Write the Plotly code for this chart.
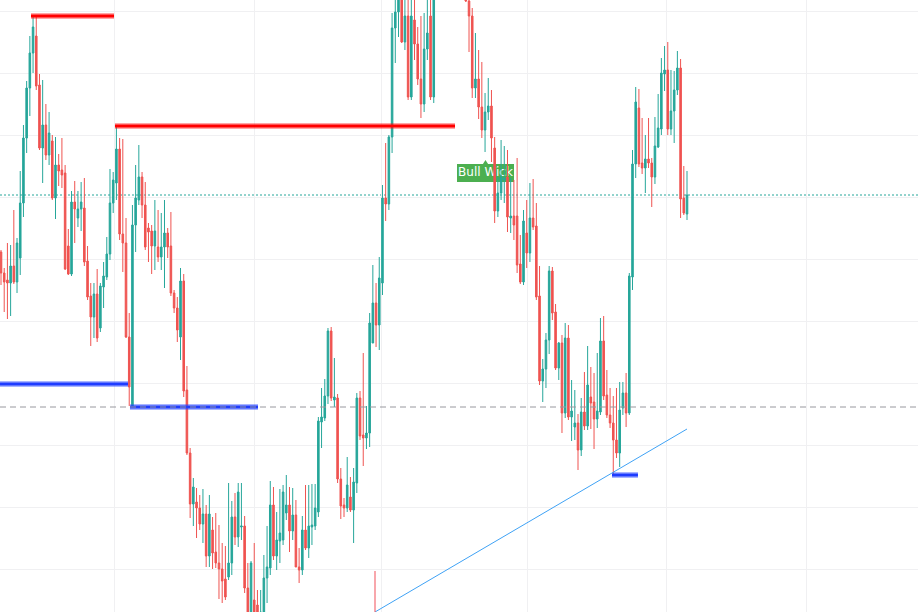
import plotly.graph_objects as go

# ---- candle data (price units, one entry per bar) ----
opens = [448,427,420,417,434,418,442,497,562,612,
         647,664,615,552,575,545,559,502,535,530,
         527,454,426,498,482,491,492,439,404,383,
         406,372,413,423,446,497,517,551,466,457,
         363,293,475,500,523,495,472,469,454,453,
         443,453,467,454,407,392,363,419,310,247,
         196,198,192,176,186,144,170,148,137,131,
         121,123,137,183,163,173,174,112,75,100,
         95,70,88,122,132,195,144,159,160,187,
         195,169,185,133,130,170,152,173,174,188,
         278,282,304,369,300,302,221,195,192,203,
         190,217,302,265,262,267,357,397,375,417,
         502,496,563,672,688,705,658,684,603,680,
         656,621,596,651,684,603,710,730,715,745,
         730,750,725,715,730,708,699,684,612,621,
         593,570,588,594,552,489,507,520,523,482,
         484,484,436,418,467,447,482,474,404,319,
         331,360,429,388,332,357,287,362,283,273,
         277,250,288,274,303,298,281,288,359,305,
         285,277,260,247,292,307,287,423,536,592,
         537,532,541,537,523,553,571,626,630,571,
         589,610,632,502,486]

highs = [450,432,457,455,490,462,529,575,619,664,
         684,683,626,620,596,588,565,563,546,562,
         535,471,509,519,509,518,522,454,417,417,
         431,417,438,463,531,528,574,562,561,482,
         387,495,535,555,528,518,477,475,500,490,
         487,500,472,488,410,403,432,426,334,252,
         222,212,205,211,195,205,183,187,175,157,
         154,217,199,207,217,217,184,137,139,157,
         110,110,145,174,219,213,188,211,215,225,
         213,212,200,152,184,215,215,216,216,283,
         312,321,372,373,342,306,232,202,243,223,
         232,307,309,347,294,387,435,417,443,515,
         557,565,687,705,720,720,710,710,705,705,
         673,684,687,705,710,730,740,750,760,770,
         765,760,745,740,740,715,705,692,667,650,
         638,607,622,610,563,523,560,554,550,522,
         520,542,465,490,500,517,521,497,434,341,
         367,434,433,396,358,365,377,375,320,310,
         286,302,328,354,333,327,347,382,384,330,
         312,304,312,318,318,327,427,550,613,611,
         582,565,582,542,583,606,642,654,658,630,
         629,649,641,534,529]

lows = [415,388,381,384,416,407,425,483,547,584,
        627,610,550,517,540,535,500,481,514,512,
        430,425,424,457,473,469,434,400,354,362,
        358,368,392,420,440,487,500,460,428,362,
        294,292,448,495,482,450,438,426,430,438,
        430,412,442,404,387,358,340,303,245,182,
        174,162,170,157,133,133,131,132,101,97,
        100,120,125,155,153,160,107,70,70,60,
        60,50,70,97,125,140,130,137,155,180,
        148,160,133,117,125,150,142,155,170,183,
        252,279,296,299,293,217,181,183,188,188,
        157,207,260,234,251,253,357,353,350,405,
        479,490,547,637,663,657,650,600,600,640,
        615,582,588,640,600,597,700,705,708,720,
        715,710,705,705,703,698,648,602,602,581,
        562,548,580,538,477,483,500,497,468,467,
        460,427,416,415,432,438,470,400,315,298,
        312,346,380,330,320,267,282,280,259,260,
        230,244,270,270,271,251,272,285,300,282,
        272,226,242,233,285,273,285,410,522,533,
        526,507,532,493,516,552,565,609,565,565,
        557,605,482,485,480]

closes = [427,418,417,434,418,457,497,562,612,647,
          673,614,552,575,545,567,502,535,529,525,
          431,426,498,491,491,498,438,403,383,406,
          362,414,424,446,497,520,551,466,457,363,
          313,475,502,523,495,453,468,454,469,443,
          453,467,453,407,392,370,419,309,247,196,
          213,192,176,186,144,186,147,137,131,119,
          103,137,183,163,208,174,112,75,137,75,
          70,88,122,133,195,144,160,167,208,195,
          169,185,133,130,170,152,174,175,192,279,
          283,304,369,302,303,221,194,192,215,190,
          218,302,264,262,267,377,397,375,422,502,
          496,563,672,688,705,658,684,603,684,656,
          621,596,651,667,603,710,730,715,745,730,
          750,725,715,730,705,699,684,612,621,593,
          570,588,594,562,489,507,523,522,483,484,
          475,435,418,479,447,482,473,403,319,331,
          360,429,387,332,357,287,362,283,289,277,
          250,288,274,315,297,281,289,359,304,285,
          277,260,247,290,307,287,424,536,598,536,
          532,541,537,523,554,572,627,630,571,589,
          610,632,501,487,505]

bars = list(range(len(opens)))

# grid positions (bar index / price)
x_grid = [35.56, 78.93, 118.85, 164.09, 207.45, 251.12]
y_grid = [689, 627, 565, 503, 441, 379, 317, 255, 193, 131]

# drawing levels
res_levels = [(9.36, 35.25, 684), (35.56, 141.63, 574)]      # red
sup_levels = [(-0.31, 39.62, 316), (40.24, 80.17, 293), (190.6, 198.7, 225)]  # blue
dashed_level = 293
trend = (116.67, 88, 214.0, 271)
label_box = (142.25, 160.03, 518, 536)
label_text = "Bull Wick"

X_RANGE = [-0.312, 286.06]
Y_RANGE = [88, 700]

UP = "#26a69a"
DOWN = "#ef5350"

fig = go.Figure()

# label text lives on the base axes so the candles (overlay axes) cover it
x0, x1, y0, y1 = label_box
xm = (x0 + x1) / 2
fig.add_trace(go.Scatter(
    x=[xm], y=[(y0 + y1) / 2], mode="text", text=[label_text],
    textfont=dict(color="white", size=12, family="DejaVu Sans"),
    textposition="middle center", hoverinfo="skip", xaxis="x", yaxis="y",
))

fig.add_trace(go.Candlestick(
    x=bars, open=opens, high=highs, low=lows, close=closes,
    increasing=dict(line=dict(color=UP, width=1), fillcolor=UP),
    decreasing=dict(line=dict(color=DOWN, width=1), fillcolor=DOWN),
    whiskerwidth=0, hoverinfo="skip", xaxis="x2", yaxis="y2",
))

shapes = []
shapes.append(dict(type="rect", xref="x", yref="y", x0=x0, x1=x1, y0=y0, y1=y1,
                   fillcolor="#4caf50", line=dict(width=0), layer="below"))
shapes.append(dict(type="path", xref="x", yref="y",
                   path=f"M {xm-0.8},{y1} L {xm},{y1+4} L {xm+0.8},{y1} Z",
                   fillcolor="#4caf50", line=dict(width=0), layer="below"))
# last price dotted line
shapes.append(dict(type="line", xref="paper", yref="y", x0=0, x1=1, y0=closes[-1], y1=closes[-1],
                   line=dict(color=UP, width=1, dash="2px,2px"), layer="below"))
# resistance lines
for a, b, lv in res_levels:
    shapes.append(dict(type="line", xref="x", yref="y", x0=a, x1=b, y0=lv, y1=lv,
                       line=dict(color="rgba(255,0,0,0.35)", width=6), layer="above"))
    shapes.append(dict(type="line", xref="x", yref="y", x0=a, x1=b, y0=lv, y1=lv,
                       line=dict(color="#ff0000", width=3), layer="above"))
# support lines
for a, b, lv in sup_levels:
    shapes.append(dict(type="line", xref="x", yref="y", x0=a, x1=b, y0=lv, y1=lv,
                       line=dict(color="rgba(41,70,255,0.4)", width=6), layer="above"))
    shapes.append(dict(type="line", xref="x", yref="y", x0=a, x1=b, y0=lv, y1=lv,
                       line=dict(color="#1f3cff", width=3), layer="above"))
# gray dashed line
shapes.append(dict(type="line", xref="paper", yref="y", x0=0, x1=1, y0=dashed_level, y1=dashed_level,
                   line=dict(color="#98989e", width=1, dash="6px,4px"), layer="above"))
# trend line
tx0, ty0, tx1, ty1 = trend
shapes.append(dict(type="line", xref="x", yref="y", x0=tx0, x1=tx1, y0=ty0, y1=ty1,
                   line=dict(color="#3fa2f5", width=1), layer="above"))
shapes.append(dict(type="line", xref="x", yref="y", x0=tx0, x1=tx0, y0=88, y1=129,
                   line=dict(color="rgba(242,80,90,0.5)", width=2), layer="above"))

axis_common = dict(showticklabels=False, ticks="", zeroline=False, showline=False, fixedrange=True)

fig.update_layout(
    width=918, height=612,
    margin=dict(l=0, r=0, t=0, b=0),
    paper_bgcolor="white", plot_bgcolor="white",
    showlegend=False,
    shapes=shapes,
    xaxis=dict(range=X_RANGE, tickvals=x_grid, showgrid=True, gridcolor="#f0f0f2",
               gridwidth=1, **axis_common),
    yaxis=dict(range=Y_RANGE, tickvals=y_grid, showgrid=True, gridcolor="#f0f0f2",
               gridwidth=1, **axis_common),
    xaxis2=dict(range=X_RANGE, overlaying="x", showgrid=False, visible=False,
                rangeslider=dict(visible=False), **axis_common),
    yaxis2=dict(range=Y_RANGE, overlaying="y", showgrid=False, visible=False, **axis_common),
)

fig.write_html("out.html")
